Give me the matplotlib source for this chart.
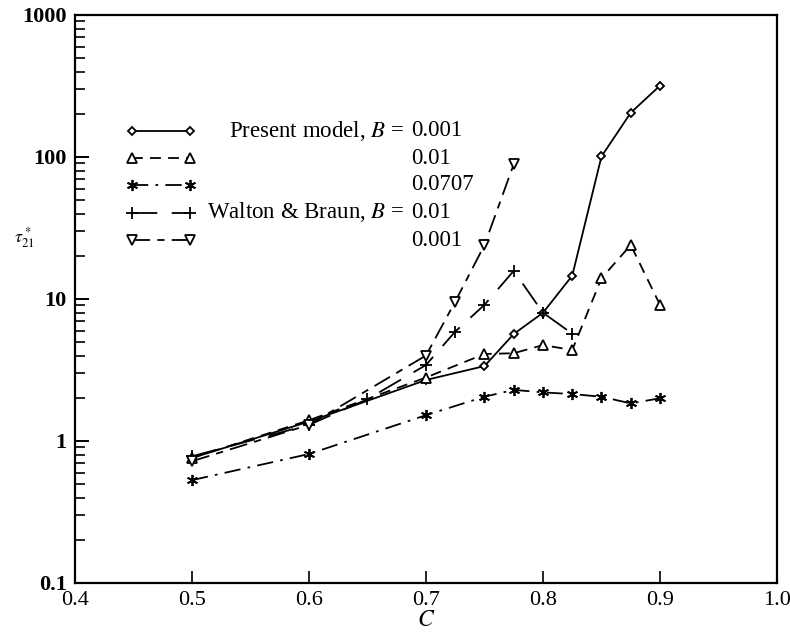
import matplotlib
matplotlib.use("Agg")
import matplotlib.pyplot as plt
from matplotlib.ticker import LogLocator, NullFormatter, NullLocator

plt.rcParams["font.family"] = ["Liberation Serif", "DejaVu Serif"]
plt.rcParams["mathtext.fontset"] = "stix"

# tau*_21 against concentration C
c_present = [0.5, 0.6, 0.7, 0.75, 0.775, 0.8, 0.825, 0.85, 0.875, 0.9]
tau_b0001 = [0.76, 1.37, 2.69, 3.37, 5.67, 8.0, 14.6, 101, 205, 318]
tau_b001 = [0.76, 1.40, 2.80, 4.1, 4.15, 4.74, 4.37, 14.0, 24.0, 9.1]
tau_b0707 = [0.53, 0.81, 1.52, 2.05, 2.29, 2.20, 2.14, 2.05, 1.84, 2.0]

c_walton_001 = [0.5, 0.6, 0.65, 0.7, 0.725, 0.75, 0.775, 0.8, 0.825]
tau_walton_001 = [0.78, 1.30, 1.97, 3.43, 5.9, 9.1, 15.8, 8.0, 5.7]

c_walton_0001 = [0.5, 0.6, 0.7, 0.725, 0.75, 0.775]
tau_walton_0001 = [0.72, 1.30, 4.0, 9.6, 24.0, 89.0]

legend_values = ["0.001", "0.01", "0.0707", "0.01", "0.001"]

styles = [
    dict(ls="-", marker="D", ms=4.5),
    dict(ls=(0, (6, 4)), marker="^", ms=6.5),
    dict(ls=(0, (9, 4, 1.5, 4)), marker=(6, 2, 0), ms=8),
    dict(ls=(0, (14, 8)), marker="+", ms=8),
    dict(ls=(0, (10, 4, 4, 4)), marker="v", ms=6.5),
]
series = [
    (c_present, tau_b0001),
    (c_present, tau_b001),
    (c_present, tau_b0707),
    (c_walton_001, tau_walton_001),
    (c_walton_0001, tau_walton_0001),
]

fig = plt.figure(figsize=(7.9, 6.38), dpi=100)
ax = fig.add_axes([75 / 790, 1 - 583 / 638, 702 / 790, 568 / 638])

for (xs, ys), st in zip(series, styles):
    ax.plot(xs, ys, color="black", lw=1.3, linestyle=st["ls"], marker=st["marker"],
            ms=st["ms"], mfc="white", mec="black", mew=1.3)

ax.set_yscale("log")
ax.set_xlim(0.4, 1.0)
ax.set_ylim(0.1, 1000)
ax.set_xticks([0.4, 0.5, 0.6, 0.7, 0.8, 0.9, 1.0],
              labels=["0.4", "0.5", "0.6", "0.7", "0.8", "0.9", "1.0"])
ax.set_yticks([0.1, 1, 10, 100, 1000], labels=["0.1", "1", "10", "100", "1000"])
ax.yaxis.set_minor_locator(LogLocator(base=10, subs=range(2, 10)))
ax.yaxis.set_minor_formatter(NullFormatter())
ax.xaxis.set_minor_locator(NullLocator())
ax.tick_params(axis="x", direction="in", length=9, width=1.2, labelsize=16, pad=6)
ax.tick_params(axis="y", which="major", direction="in", length=10, width=1.4,
               labelsize=16, pad=6)
ax.tick_params(axis="y", which="minor", direction="in", length=7, width=1.2)
for lab in ax.get_yticklabels():
    lab.set_fontweight("bold")
for sp in ax.spines.values():
    sp.set_linewidth(1.6)

ax.set_xlabel("$C$", fontsize=17, labelpad=0)
fig.text(14 / 790, 1 - 238 / 638, r"$\tau^*_{21}$", fontsize=13, va="center", ha="left")

# hand-built key: sample line with a marker at each end, then the label
def ax_x(px):
    return (px - 75) / 702


def ax_y(py):
    return (583 - py) / 568


row_py = [131, 158, 185, 212.5, 240]
captions = ["Present model, $B$ =", "", "", "Walton & Braun, $B$ =", ""]
for py, st, cap, val in zip(row_py, styles, captions, legend_values):
    y = ax_y(py)
    ax.plot([ax_x(132), ax_x(190)], [y, y], transform=ax.transAxes, color="black",
            lw=1.3, linestyle=st["ls"], marker=st["marker"], ms=st["ms"],
            mfc="white", mec="black", mew=1.3, clip_on=False)
    if cap:
        ax.text(ax_x(404), y, cap, transform=ax.transAxes, fontsize=16.5,
                ha="right", va="center")
    ax.text(ax_x(411), y, val, transform=ax.transAxes, fontsize=16.5,
            ha="left", va="center")

fig.savefig("out.png", dpi=100)
